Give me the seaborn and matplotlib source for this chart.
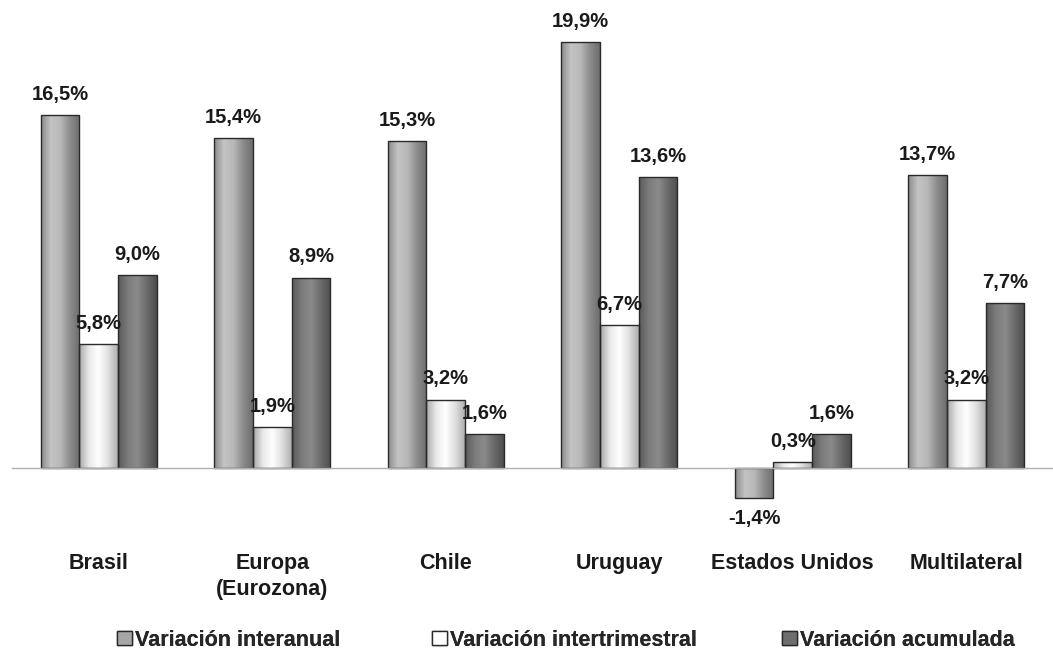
import numpy as np
import pandas as pd
import matplotlib
matplotlib.use("Agg")
import matplotlib.pyplot as plt
import seaborn as sns
from matplotlib.patches import Patch
from matplotlib.colors import LinearSegmentedColormap

# datos
paises = ["Brasil", "Europa\n(Eurozona)", "Chile", "Uruguay", "Estados Unidos", "Multilateral"]
series = ["Variación interanual", "Variación intertrimestral", "Variación acumulada"]
interanual = [16.5, 15.4, 15.3, 19.9, -1.4, 13.7]
intertrimestral = [5.8, 1.9, 3.2, 6.7, 0.3, 3.2]
acumulada = [9.0, 8.9, 1.6, 13.6, 1.6, 7.7]

df = pd.DataFrame({
    "Pais": paises * 3,
    "Serie": [series[0]] * 6 + [series[1]] * 6 + [series[2]] * 6,
    "Valor": interanual + intertrimestral + acumulada,
})

# gradientes tipo "cilindro" de Excel
grads = [
    ["#8a8a8a", "#c4c4c4", "#b8b8b8", "#8c8c8c", "#6e6e6e"],
    ["#a8a8a8", "#e8e8e8", "#ffffff", "#e0e0e0", "#b0b0b0"],
    ["#5a5a5a", "#7c7c7c", "#8a8a8a", "#6a6a6a", "#4e4e4e"],
]
flat = ["#a6a6a6", "#ffffff", "#6e6e6e"]

sns.set_style("white")
plt.rcParams["font.family"] = ["Liberation Sans", "DejaVu Sans"]
plt.rcParams["font.weight"] = "bold"
fs_lab = 14.5
fs = 15.5

fig = plt.figure(figsize=(10.53, 6.49), dpi=100)
ax = fig.add_axes([12 / 1053, 1 - 543 / 649, 1 - 12 / 1053, 543 / 649])

sns.barplot(data=df, x="Pais", y="Valor", hue="Serie", hue_order=series,
            order=paises, palette=flat, width=0.67, ax=ax,
            edgecolor="#2a2a2a", linewidth=1.0, legend=False)

ax.set_xlim(-0.5, 5.45)
ax.set_ylim(-3.5, 21.87)

for i, cont in enumerate(ax.containers):
    cmap = LinearSegmentedColormap.from_list(f"g{i}", grads[i])
    grad = np.linspace(0, 1, 64).reshape(1, -1)
    for p in cont.patches:
        x0, w = p.get_x(), p.get_width()
        y0, h = p.get_y(), p.get_height()
        im = ax.imshow(grad, cmap=cmap, aspect="auto", zorder=1.5,
                       extent=[x0, x0 + w, min(y0, y0 + h), max(y0, y0 + h)])
        im.set_clip_path(p)
        p.set_facecolor("none")
        p.set_zorder(2)
    labs = [f"{v:.1f}%".replace(".", ",") for v in cont.datavalues]
    ax.bar_label(cont, labels=labs, padding=8, fontsize=fs_lab, fontweight="bold",
                 color="#1a1a1a")

ax.set_xlim(-0.5, 5.45)
ax.set_ylim(-3.5, 21.87)

# eje
for s in ["top", "right", "left"]:
    ax.spines[s].set_visible(False)
ax.spines["bottom"].set_position(("data", 0))
ax.spines["bottom"].set_color("#b0b0b0")
ax.spines["bottom"].set_linewidth(1.0)
ax.set_yticks([])
ax.set_xlabel("")
ax.set_ylabel("")
ax.set_xticks(range(6))
ax.set_xticklabels(paises, fontsize=fs, fontweight="bold", linespacing=1.3)
ax.tick_params(axis="x", which="major", length=0, pad=61, colors="#1a1a1a")
ax.set_xticks(np.arange(-0.5, 6, 1.0), minor=True)
ax.tick_params(axis="x", which="minor", length=5, width=0.8, color="#b0b0b0",
               direction="out")

# leyenda
legend_x = [117, 432, 782]
for i, s in enumerate(series):
    leg = fig.legend(handles=[Patch(facecolor=flat[i], edgecolor="#2a2a2a", linewidth=1.0)],
                     labels=[s], loc="center left",
                     bbox_to_anchor=(legend_x[i] / 1053, 1 - 640 / 649),
                     frameon=False, handlelength=0.7, handleheight=0.65,
                     handletextpad=0.15, borderaxespad=0, borderpad=0,
                     prop={"size": fs, "weight": "bold"})
    fig.add_artist(leg)

fig.savefig("out.png", dpi=100)
